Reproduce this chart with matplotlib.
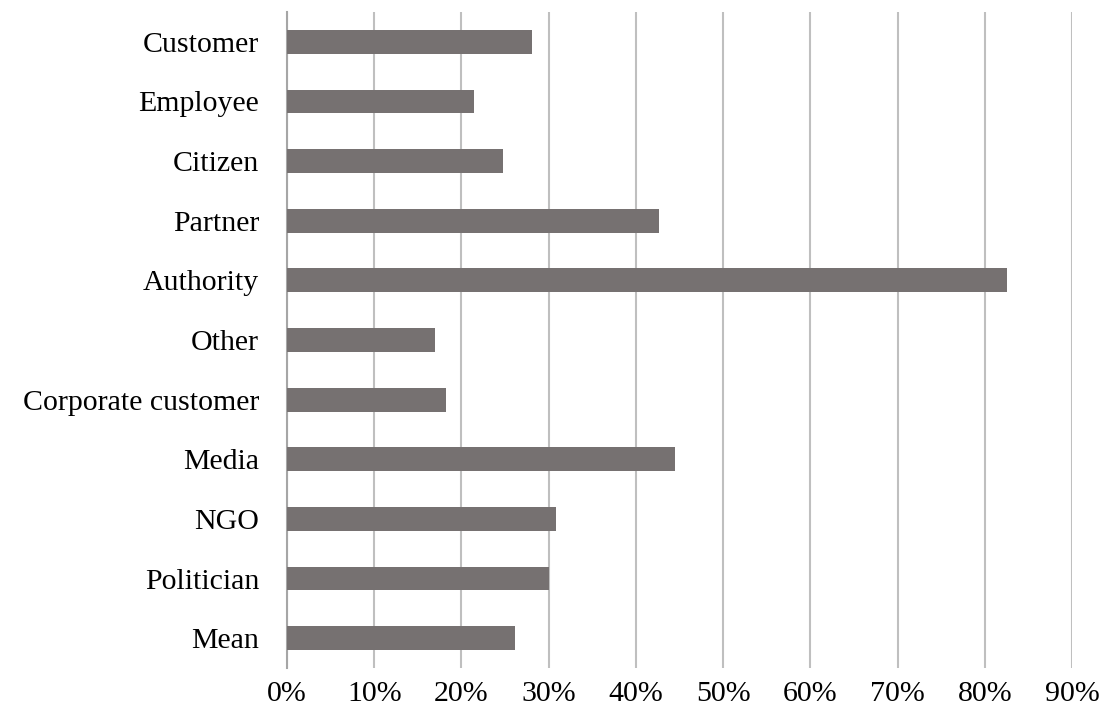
import matplotlib
matplotlib.use('Agg')
import matplotlib.pyplot as plt
from matplotlib.ticker import FuncFormatter, MultipleLocator

# Данные (сверху вниз, как на исходном графике)
categories = ['Customer', 'Employee', 'Citizen', 'Partner', 'Authority', 'Other',
              'Corporate customer', 'Media', 'NGO', 'Politician', 'Mean']
values = [0.281, 0.214, 0.248, 0.427, 0.826, 0.170, 0.182, 0.445, 0.308, 0.300, 0.261]

plt.rcParams['font.family'] = ['Liberation Serif', 'DejaVu Serif']

fig = plt.figure(figsize=(11.02, 7.18), dpi=100)
ax = fig.add_axes([0.2604, 0.0696, 0.7124, 0.9137])

y = list(range(len(categories)))
ax.barh(y, values, height=0.4, color='#767171', zorder=3)

ax.set_ylim(len(categories) - 0.5, -0.5)
ax.set_xlim(0, 0.9)
ax.set_yticks(y)
ax.set_yticklabels(categories)
ax.xaxis.set_major_locator(MultipleLocator(0.1))
ax.xaxis.set_major_formatter(FuncFormatter(lambda v, p: f"{round(v * 100):d}%"))

# сетка и оси в стиле Excel
ax.grid(axis='x', color='#BFBFBF', linewidth=1.5, zorder=0)
for s in ['top', 'right', 'bottom']:
    ax.spines[s].set_visible(False)
ax.spines['left'].set_color('#A6A6A6')
ax.spines['left'].set_linewidth(1.5)

ax.tick_params(axis='both', length=0, labelsize=21.5, colors='black')
ax.tick_params(axis='y', pad=20)
ax.tick_params(axis='x', pad=9)

fig.savefig('out.png', dpi=100)
plt.close(fig)
